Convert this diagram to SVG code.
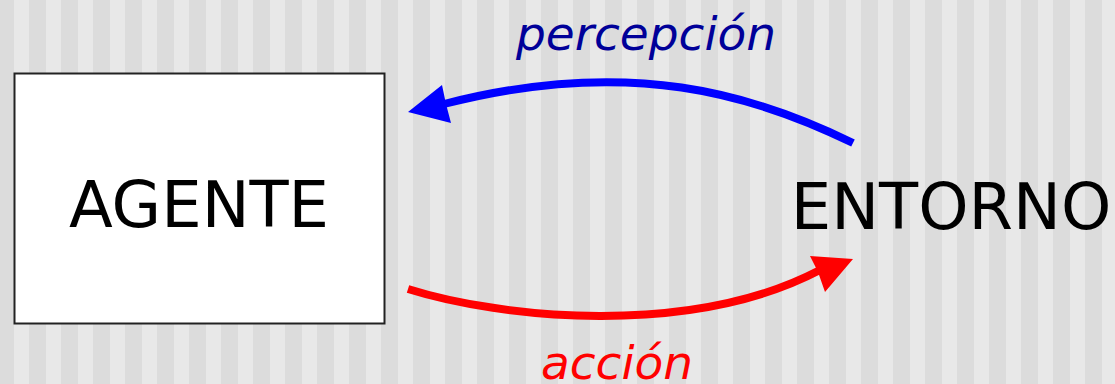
<svg xmlns="http://www.w3.org/2000/svg" width="1115" height="384" viewBox="0 0 1115 384">
<defs>
<pattern id="stripes" x="14" y="0" width="32" height="384" patternUnits="userSpaceOnUse">
<rect x="0" y="0" width="32" height="384" fill="#dcdcdc"/>
<rect x="0" y="0" width="15" height="384" fill="#e8e8e8"/>
</pattern>
<style>
.lbl{font-family:"DejaVu Sans",sans-serif;font-size:64px;fill:#000}
.edge{font-family:"DejaVu Sans",sans-serif;font-size:47px;font-style:italic}
.wire{fill:none;stroke-width:8}
</style>
</defs>
<rect x="0" y="0" width="1115" height="384" fill="url(#stripes)"/>
<g id="agente">
<rect x="14.5" y="73.5" width="370" height="250" fill="#fff" stroke="#222" stroke-width="2"/>
<text class="lbl" x="199" y="227" text-anchor="middle">AGENTE</text>
</g>
<g id="entorno">
<text class="lbl" x="951" y="229" text-anchor="middle">ENTORNO</text>
</g>
<g id="connectors">
<path class="wire" stroke="#0000ff" d="M853,143 C755,95 630,56 444,104"/>
<polygon fill="#0000ff" points="408,112 442,85 446,104 451,123"/>
<text class="edge" fill="#000099" x="646" y="50" text-anchor="middle">percepción</text>
<path class="wire" stroke="#ff0000" d="M408,289 C500,318 690,338 820,270"/>
<polygon fill="#ff0000" points="853,259 810,256 818,272 825,292"/>
<text class="edge" fill="#ff0000" x="617" y="379" text-anchor="middle">acción</text>
</g>
</svg>
